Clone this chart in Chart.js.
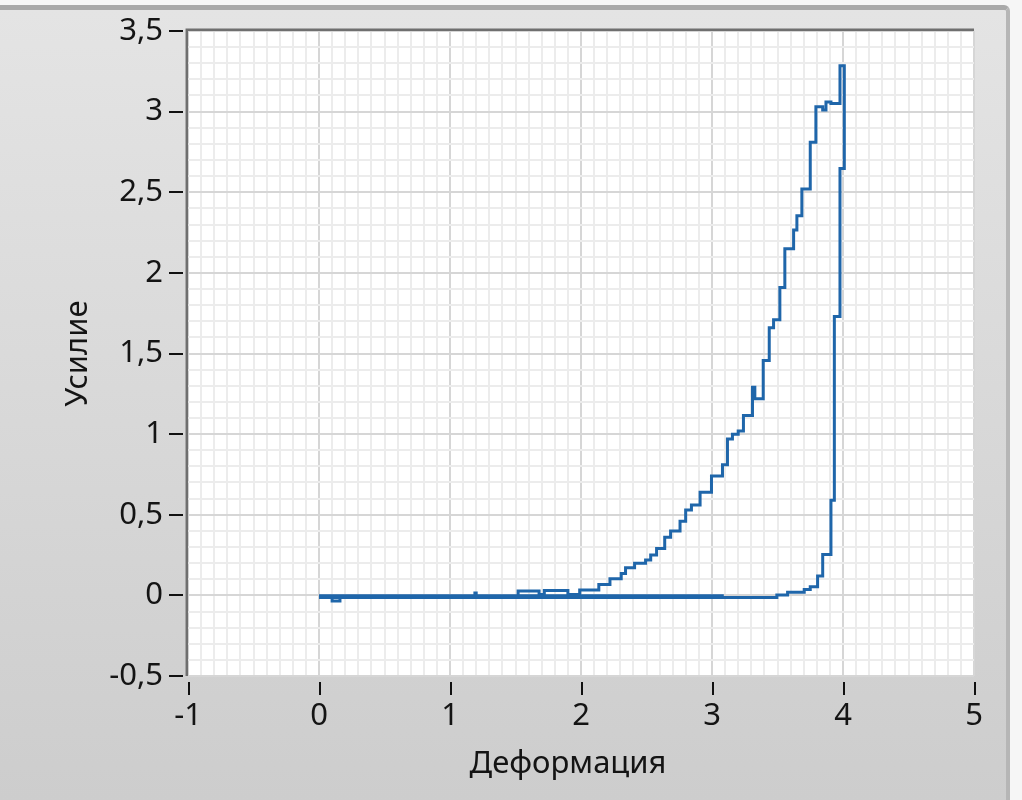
<!DOCTYPE html>
<html lang="ru">
<head>
<meta charset="utf-8">
<title>Усилие / Деформация</title>
<script src="https://cdn.jsdelivr.net/npm/chart.js@4.4.1/dist/chart.umd.min.js"></script>
<style>
    html, body {
        margin: 0;
        padding: 0;
        width: 1022px;
        height: 800px;
        overflow: hidden;
        background: #f6f6f6;
    }
    .panel {
        position: absolute;
        left: 0;
        top: 5px;
        width: 1010px;
        height: 795px;
        box-sizing: border-box;
        background: linear-gradient(#e4e4e4, #cdcdcd);
        border-top: 5px solid #a9a9a9;
        border-right: 4px solid #b6b6b6;
        border-top-right-radius: 6px;
    }
    .wrap {
        position: absolute;
        left: 0;
        top: 0;
        width: 1022px;
        height: 800px;
    }
</style>
</head>
<body>
<div class="panel"></div>
<div class="wrap"><canvas id="graph"></canvas></div>
<script>
// recorded samples: deformation (x) and force (y)
const deformation = [
    0, 0.10, 0.16, 1.19, 1.20, 3.09, 0,
    1.52, 1.68, 1.72, 1.90, 1.99, 2.136, 2.221, 2.307, 2.340, 2.409, 2.493,
    2.532, 2.577, 2.639, 2.684, 2.756, 2.799, 2.843, 2.909, 2.996, 3.080,
    3.118, 3.156, 3.200, 3.240, 3.309, 3.327, 3.391, 3.437, 3.470, 3.518,
    3.556, 3.623, 3.648, 3.686, 3.750, 3.793, 3.845, 3.870, 3.908, 3.977, 4.010,
    4.010, 3.977, 3.934, 3.908, 3.845, 3.806, 3.750, 3.704, 3.577, 3.495, 0
];
const force = [
    -0.002, -0.035, -0.002, 0.015, -0.002, -0.002, -0.002,
    0.027, 0.005, 0.030, 0.005, 0.033, 0.068, 0.103, 0.136, 0.171, 0.200, 0.220,
    0.250, 0.290, 0.360, 0.400, 0.460, 0.530, 0.560, 0.640, 0.740, 0.810,
    0.970, 1.000, 1.020, 1.115, 1.290, 1.220, 1.457, 1.660, 1.710, 1.910,
    2.149, 2.266, 2.355, 2.520, 2.810, 3.030, 3.010, 3.060, 3.050, 3.284, 3.284,
    2.647, 1.730, 0.590, 0.254, 0.120, 0.054, 0.037, 0.020, 0.002, -0.013, -0.013
];

const xTickValues = [-1, 0, 1, 2, 3, 4, 5];
const xTickLabels = ['-1', '0', '1', '2', '3', '4', '5'];
const yTickValues = [-0.5, 0, 0.5, 1, 1.5, 2, 2.5, 3, 3.5];
const yTickLabels = ['-0,5', '0', '0,5', '1', '1,5', '2', '2,5', '3', '3,5'];

const xTitle = 'Деформация';
const yTitle = 'Усилие';

const lineColor = '#1f66aa';
const textColor = '#141414';
const majorGrid = '#d6d6d6';
const minorGrid = '#ececec';
const labelFont = { family: 'Noto Sans', size: 31 };

function findTick(values, v) {
    return values.findIndex(t => Math.abs(t - v) < 1e-9);
}

// white plot area, sunken frame, black tick marks and the x caption
const plotFrame = {
    id: 'plotFrame',
    beforeDraw(chart) {
        const { ctx, chartArea: a } = chart;
        ctx.save();
        ctx.fillStyle = '#ffffff';
        ctx.fillRect(a.left, a.top, a.width, a.height);
        ctx.restore();
    },
    afterDraw(chart) {
        const { ctx, chartArea: a, scales } = chart;
        ctx.save();
        ctx.strokeStyle = '#6f6f6f';
        ctx.lineWidth = 2.5;
        ctx.beginPath();
        ctx.moveTo(a.left - 1.2, a.bottom);
        ctx.lineTo(a.left - 1.2, a.top - 1.2);
        ctx.lineTo(a.right, a.top - 1.2);
        ctx.stroke();

        ctx.strokeStyle = '#111111';
        ctx.lineWidth = 2;
        ctx.beginPath();
        yTickValues.forEach(v => {
            const py = Math.round(scales.y.getPixelForValue(v));
            ctx.moveTo(a.left - 19, py);
            ctx.lineTo(a.left - 5, py);
        });
        xTickValues.forEach(v => {
            const px = Math.round(scales.x.getPixelForValue(v)) + 1;
            ctx.moveTo(px, a.bottom + 6);
            ctx.lineTo(px, a.bottom + 19);
        });
        ctx.stroke();

        ctx.fillStyle = textColor;
        ctx.font = labelFont.size + 'px "' + labelFont.family + '"';
        ctx.textAlign = 'center';
        ctx.textBaseline = 'middle';
        ctx.fillText(xTitle, (a.left + a.right) / 2 - 13, 764);
        ctx.restore();
    }
};

new Chart(document.getElementById('graph'), {
    type: 'line',
    data: {
        datasets: [{
            data: deformation.map((x, i) => ({ x: x, y: force[i] })),
            borderColor: lineColor,
            borderWidth: 3,
            stepped: 'before',
            pointRadius: 0,
            fill: false
        }]
    },
    options: {
        responsive: true,
        maintainAspectRatio: false,
        animation: false,
        events: [],
        layout: { padding: { top: 31, right: 48, left: 0, bottom: 0 } },
        plugins: {
            legend: { display: false },
            tooltip: { enabled: false }
        },
        scales: {
            x: {
                type: 'linear',
                min: -1,
                max: 5,
                afterFit: s => { s.height = 124; },
                border: { display: false },
                grid: {
                    drawTicks: false,
                    lineWidth: 2,
                    color: c => findTick(xTickValues, c.tick.value) >= 0 ? majorGrid : minorGrid
                },
                ticks: {
                    stepSize: 0.1,
                    autoSkip: false,
                    maxRotation: 0,
                    padding: 22,
                    color: textColor,
                    font: labelFont,
                    callback: v => {
                        const i = findTick(xTickValues, v);
                        return i >= 0 ? xTickLabels[i] : '';
                    }
                }
            },
            y: {
                type: 'linear',
                min: -0.5,
                max: 3.5,
                afterFit: s => {
                    s.width = 188;
                    s.paddingTop = 18;
                    s.paddingBottom = 18;
                },
                border: { display: false },
                grid: {
                    drawTicks: false,
                    lineWidth: 2,
                    color: c => findTick(yTickValues, c.tick.value) >= 0 ? majorGrid : minorGrid
                },
                ticks: {
                    stepSize: 0.1,
                    autoSkip: false,
                    padding: 25,
                    color: textColor,
                    font: labelFont,
                    callback: v => {
                        const i = findTick(yTickValues, v);
                        return i >= 0 ? yTickLabels[i] : '';
                    }
                },
                title: {
                    display: true,
                    text: yTitle,
                    color: textColor,
                    font: labelFont,
                    padding: { top: 60, bottom: 0 }
                }
            }
        }
    },
    plugins: [plotFrame]
});
</script>
</body>
</html>
